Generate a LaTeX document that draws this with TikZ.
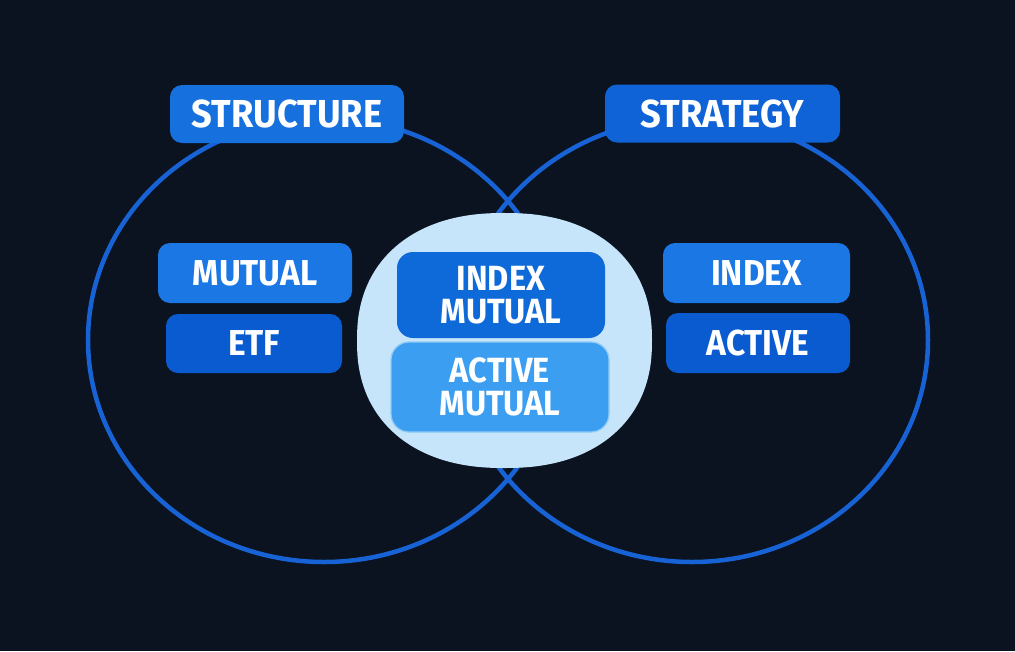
\documentclass[tikz,border=0pt]{standalone}
\usepackage{fontspec}
\usetikzlibrary{shapes.geometric}
\newfontfamily\lblfont{Fira Sans}[FakeStretch=0.93]
\definecolor{bg}{HTML}{0B1320}
\definecolor{ring}{HTML}{1763D6}
\definecolor{titlebox}{HTML}{1670DE}
\definecolor{titlebox2}{HTML}{0F63D6}
\definecolor{lightbox}{HTML}{1A77E4}
\definecolor{darkbox}{HTML}{0B5BD0}
\definecolor{blob}{HTML}{C6E5FA}
\definecolor{midbox}{HTML}{0E6AD8}
\definecolor{palebox}{HTML}{3C9EF0}
\definecolor{paleedge}{HTML}{8FCBF6}
\tikzset{
  ringshape/.style={ellipse, draw=ring, line width=4.5pt, minimum width=472pt, minimum height=444pt, inner sep=0pt},
  titlelbl/.style={rectangle, rounded corners=12pt, text=white, font=\lblfont\bfseries\fontsize{39}{39}\selectfont, inner sep=0pt, minimum height=58pt},
  itemlbl/.style={rectangle, rounded corners=12pt, text=white, font=\lblfont\bfseries\fontsize{36}{32}\selectfont, inner sep=0pt, minimum height=60pt, align=center},
  twolbl/.style={itemlbl, font=\lblfont\bfseries\fontsize{35}{33}\selectfont},
}
\begin{document}
\begin{tikzpicture}[x=1pt,y=-1pt]
\fill[bg] (0,0) rectangle (1015,651);
\useasboundingbox (0,0) rectangle (1015,651);
\node[ringshape] (lring) at (324,340) {};
\node[ringshape] (rring) at (692,340) {};
\node[titlelbl, fill=titlebox, minimum width=234pt] (structure) at (287,114) {STRUCTURE};
\node[titlelbl, fill=titlebox2, minimum width=235pt] (strategy) at (722.5,113.5) {STRATEGY};
\node[itemlbl, fill=lightbox, minimum width=194pt] (mutual) at (255,273) {MUTUAL};
\node[itemlbl, fill=darkbox, minimum width=176pt, minimum height=59pt] (etf) at (254,343.5) {ETF};
\node[itemlbl, fill=lightbox, minimum width=187pt] (index) at (756.5,273) {INDEX};
\node[itemlbl, fill=darkbox, minimum width=184pt] (active) at (758,343) {ACTIVE};
\coordinate (blobc) at (504.5,340.5);
\fill[blob, shift={(blobc)}] plot[domain=0:360, samples=120, smooth cycle]
  ({147.5*pow(abs(cos(\x)),0.88)*(cos(\x)<0 ? -1 : 1)}, {127.5*pow(abs(sin(\x)),0.88)*(sin(\x)<0 ? -1 : 1)});
\node[twolbl, fill=midbox, minimum width=208pt, minimum height=86pt, rounded corners=16pt] (indexmutual) at (501,295) {INDEX\\MUTUAL};
\node[twolbl, fill=palebox, draw=paleedge, line width=1.2pt, minimum width=218pt, minimum height=90pt, rounded corners=18pt] (activemutual) at (500,387) {ACTIVE\\MUTUAL};
\end{tikzpicture}
\end{document}
